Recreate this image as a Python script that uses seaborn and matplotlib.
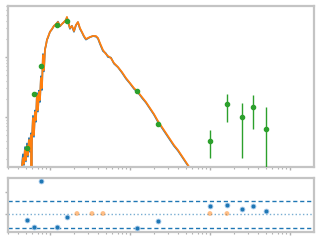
import numpy as np
import pandas as pd
import matplotlib
matplotlib.use("Agg")
import matplotlib.pyplot as plt
import seaborn as sns

# ---- data (log10 units) ----
spec_logwave = [-1.35, -1.3375, -1.325, -1.3125, -1.3, -1.2875, -1.275, -1.2625, -1.25, -1.2375,
                -1.231, -1.225, -1.2125, -1.2, -1.1875, -1.175, -1.1625, -1.15, -1.1375, -1.125,
                -1.1125, -1.1, -1.0875, -1.075, -1.0625, -1.05, -1.0375, -1.025, -1.0, -0.975,
                -0.95, -0.925, -0.9, -0.875, -0.85, -0.825, -0.8, -0.7875, -0.775, -0.75,
                -0.725, -0.7, -0.675, -0.65, -0.625, -0.6, -0.575, -0.55, -0.525, -0.5,
                -0.4625, -0.425, -0.4, -0.375, -0.3375, -0.3, -0.275, -0.2375, -0.2, -0.15,
                -0.1, -0.05, 0.0, 0.05, 0.1, 0.15, 0.2, 0.25, 0.3, 0.35,
                0.4, 0.45, 0.5, 0.55, 0.6, 0.65, 0.7, 0.75]
model_logflux = [-0.817, -0.683, -0.783, -0.55, -0.717, -0.483, -0.633, -0.383, -0.55, -0.3,
                 -0.883, -0.383, -0.017, -0.3, 0.083, -0.05, 0.367, 0.117, 0.417, 0.283,
                 0.65, 0.483, 1.033, 0.783, 1.117, 1.2, 1.283, 1.333, 1.417, 1.467,
                 1.517, 1.55, 1.583, 1.517, 1.55, 1.583, 1.617, 1.667, 1.6, 1.483,
                 1.517, 1.433, 1.533, 1.583, 1.483, 1.417, 1.35, 1.3, 1.317, 1.333,
                 1.35, 1.35, 1.317, 1.233, 1.117, 1.05, 1.017, 0.983, 0.9, 0.833,
                 0.75, 0.65, 0.567, 0.483, 0.417, 0.333, 0.25, 0.15, 0.05, -0.067,
                 -0.167, -0.267, -0.367, -0.467, -0.55, -0.65, -0.75, -0.85]
obs_logflux = [-0.80, -0.62, -0.80, -0.50, -0.74, -0.44, -0.66, -0.35, -0.58, -0.27,
               -0.90, -0.40, 0.02, -0.33, 0.11, -0.08, 0.40, 0.09, 0.44, 0.25,
               0.68, 0.45, 1.05, 0.76, 1.13, 1.19, 1.29, 1.32, 1.42, 1.46,
               1.52, 1.54, 1.59, 1.51, 1.55, 1.58, 1.62, 1.66, 1.59, 1.47,
               1.52, 1.42, 1.53, 1.58, 1.47, 1.41, 1.34, 1.29, 1.31, 1.33,
               1.35, 1.34, 1.31, 1.22, 1.10, 1.06, 1.00, 0.99, 0.89, 0.83,
               0.74, 0.64, 0.56, 0.47, 0.41, 0.32, 0.24, 0.14, 0.04, -0.08,
               -0.18, -0.28, -0.38, -0.48, -0.56, -0.66, -0.76, -0.86]

phot_wave = [0.0516, 0.0631, 0.0772, 0.1224, 0.1631, 1.223, 2.239, 10.0, 16.31, 25.1, 34.5, 50.1]
phot_flux = [0.304, 2.42, 7.08, 34.1, 39.8, 2.71, 0.764, 0.398, 1.647, 1.0, 1.468, 0.631]
phot_lo = [0.29, 2.30, 6.8, 33.0, 38.5, 2.65, 0.75, 0.207, 0.825, 0.207, 0.63, 0.08]
phot_hi = [0.32, 2.55, 7.4, 35.2, 41.0, 2.77, 0.78, 0.607, 2.42, 1.71, 2.33, 1.468]

resid_wave = [0.0516, 0.0631, 0.0772, 0.1224, 0.1631, 1.223, 2.239, 10.0, 16.31, 25.1, 34.5, 50.1]
resid_val = [-0.30, -0.63, 1.51, -0.63, -0.16, -0.67, -0.35, 0.35, 0.40, 0.21, 0.35, 0.12]
limit_wave = [0.2175, 0.335, 0.46, 10.0, 16.31]
limit_val = [0.0, 0.0, 0.0, 0.0, 0.0]
band_hi, band_lo = 0.57, -0.69

# ---- figure ----
sns.set_style("white")
fig = plt.figure(figsize=(3.2, 2.4), dpi=100)
ax = fig.add_axes([0.025, 0.304, 0.956, 0.671])
axr = fig.add_axes([0.025, 0.0333, 0.956, 0.225])

spec = pd.DataFrame({"wave": 10 ** np.array(spec_logwave),
                     "model": 10 ** np.array(model_logflux),
                     "obs": 10 ** np.array(obs_logflux)})

sns.lineplot(data=spec, x="wave", y="obs", ax=ax, color="C0", lw=1.2,
             estimator=None, sort=False)
sns.lineplot(data=spec, x="wave", y="model", ax=ax, color="C1", lw=1.3,
             estimator=None, sort=False)

pf = np.array(phot_flux)
yerr = [pf - np.array(phot_lo), np.array(phot_hi) - pf]
ax.errorbar(phot_wave, phot_flux, yerr=yerr, fmt="o", color="C2", ms=3.0,
            elinewidth=1.0, capsize=0, zorder=5)

sns.scatterplot(x=resid_wave, y=resid_val, ax=axr, color="C0", s=12,
                edgecolor="#9ec5e8", linewidth=0.6, zorder=5)
sns.scatterplot(x=limit_wave, y=limit_val, ax=axr, color="C1", s=12, alpha=0.5,
                edgecolor="none", zorder=4)
axr.axhline(0, color="C0", ls=":", lw=1.0, alpha=0.6)
axr.axhline(band_hi, color="C0", ls="--", lw=1.0, dashes=(3, 2))
axr.axhline(band_lo, color="C0", ls="--", lw=1.0, dashes=(3, 2))

for a in (ax, axr):
    a.set_xscale("log")
    a.set_xlim(0.0299, 199.5)
    a.set_xlabel("")
    a.set_ylabel("")
    for s in a.spines.values():
        s.set_color("#c4c4c4")
        s.set_linewidth(1.6)
    a.tick_params(which="both", bottom=True, left=True, labelbottom=False,
                  labelleft=False, color="#b0b0b0", direction="out")
    a.tick_params(which="major", length=2.5, width=1)
    a.tick_params(which="minor", length=1.5, width=0.8)

ax.set_yscale("log")
ax.set_ylim(0.147, 70.8)
axr.set_ylim(-0.86, 1.65)
axr.set_yticks([0, 1])

fig.savefig("out.png", dpi=100)
